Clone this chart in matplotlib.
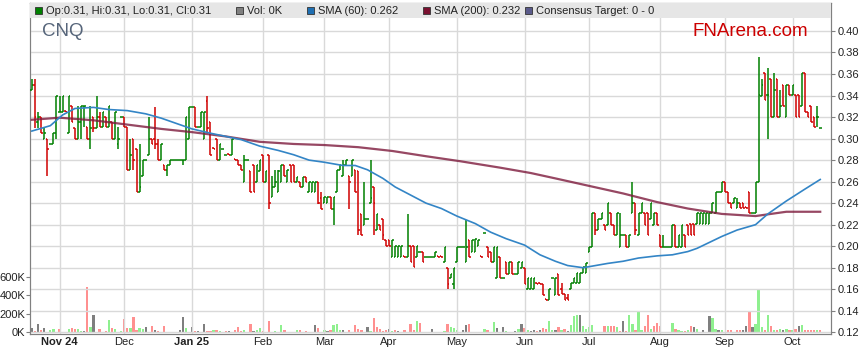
#CNQ daily price chart (OHLC bars, SMA lines and volume), FNArena style
import numpy as np
import pandas as pd
import matplotlib
matplotlib.use('Agg')
import matplotlib.pyplot as plt
from matplotlib.patches import Rectangle

plt.rcParams['font.family'] = ['Liberation Sans', 'DejaVu Sans']

# daily bars, first one is 21 Oct 2024
opens = [.345,.350,.315,.320,.300,.300,.295,.295,.305,.325, .325,.326,.305,.330,.310,.300,.315,.330,.311,.300,
         .320,.310,.320,.311,.320,.311,.315,.300,.295,.320, .320,.311,.271,.300,.290,.250,.265,.280,.285,.300,
         .300,.295,.280,
         .275,.271,.275,.280,.280,.280,.280,.280,.300,.329, .329,.311,.311,.300,.335,.315,.291,.300,.280,.290,
         .285,.286,.285,.281,.280,.275,.260,.280,.270,.275, .260,.270,.285,.260,.285,.246,.255,.250,.260,.275,
         .260,.275,
         .275,.260,.260,.255,.2645,.250,.250,.250,.260,.245, .240,.240,.2457,.235,.250,.2705,.265,.275,.265,.265,
         .2705,.270,.230,.220,.225,.240,.255,.215,.220,.225, .2055,.2055,.190,.190,.190,.190,.191,.190,.200,.200,
         .190,.1946,.1946,.190,
         .190,.190,.190,.1905,.1905,.1854,.180,.170,.165,.185, .1994,.1994,.185,.2056,.1947,.1947,.200,.1905,.2118,.1994,
         .1947,.1854,.170,.1895,.170,.1854,.1746,.1854,.1746,.1746, .180,.180,.160,.160,.160,.166,.166,.1653,.151,.150,
         .170,.155,.1746,
         .160,.1556,.152,.160,.1655,.1655,.1655,.1748,.1748,.195, .1996,.2306,.215,.225,.2197,.2197,.2306,.2197,.2104,.1996,
         .2104,.2104,.1996,.2306,.2398,.2104,.2306,.2306,.2306,.225, .2197,.2306,.2104,.1996,.1996,.1996,.1996,.2197,.1996,.1996,
         .2104,.2197,
         .2202,.2202,.2202,.2202,.2202,.2202,.2202,.2304,.2304,.2499, .2499,.260,.2499,.240,.240,.2351,.240,.240,.236,.2499,
         .2304,.2304,.260,.340,.3606,.3402,.355,.3203,.355,.3203, .350,.3203,.350,.3402,.3402,.3402,.3302,.3606,.325,.3302,
         .3203,.3203,.310]
highs = [.355,.355,.325,.320,.310,.300,.295,.305,.340,.340, .340,.326,.340,.330,.310,.330,.330,.330,.311,.330,
         .320,.340,.325,.325,.320,.330,.315,.325,.311,.320, .320,.311,.300,.300,.290,.295,.280,.280,.320,.300,
         .329,.300,.295,
         .275,.275,.280,.280,.280,.280,.280,.320,.329,.329, .329,.311,.325,.325,.340,.315,.291,.300,.295,.290,
         .285,.286,.300,.281,.280,.275,.285,.280,.270,.275, .275,.280,.285,.270,.285,.265,.271,.271,.275,.275,
         .271,.275,
         .275,.2645,.260,.2645,.2645,.260,.260,.260,.260,.250, .2457,.2457,.2457,.2457,.2705,.275,.2805,.2805,.265,.2805,
         .2705,.270,.230,.260,.225,.2805,.255,.230,.220,.225, .2055,.2055,.2055,.200,.200,.200,.191,.230,.200,.200,
         .200,.1946,.1946,.190,
         .190,.190,.1947,.1905,.1905,.1994,.180,.1746,.180,.1994, .1994,.1994,.2248,.2056,.2056,.2071,.2056,.1905,.2118,.1994,
         .1947,.1994,.1994,.1895,.170,.1854,.1854,.1854,.1746,.1854, .1854,.180,.170,.170,.170,.166,.166,.1653,.151,.160,
         .170,.170,.1746,
         .1655,.1556,.1556,.1655,.170,.1748,.1748,.181,.1847,.1996, .2306,.2306,.225,.2306,.2197,.2398,.2306,.2197,.2306,.2306,
         .2104,.2104,.2104,.260,.2398,.2306,.2398,.2306,.2306,.2398, .2306,.2306,.2104,.2104,.1996,.1996,.2197,.2197,.2104,.2197,
         .2104,.2197,
         .2202,.2202,.2304,.2304,.2304,.2304,.2304,.240,.2499,.2499, .260,.260,.2499,.240,.245,.245,.240,.240,.236,.2499,
         .2304,.260,.376,.355,.3606,.3653,.355,.3606,.355,.3451, .350,.350,.350,.350,.3402,.3402,.3606,.3606,.325,.3302,
         .3203,.3302,.310]
lows = [.345,.310,.310,.305,.300,.265,.295,.295,.300,.325, .325,.325,.305,.315,.300,.300,.300,.311,.300,.290,
        .306,.310,.311,.311,.311,.311,.300,.300,.290,.320, .311,.271,.271,.271,.250,.250,.265,.280,.285,.295,
        .290,.280,.280,
        .271,.265,.275,.280,.280,.280,.275,.280,.300,.329, .311,.311,.311,.300,.305,.285,.290,.280,.280,.290,
        .285,.285,.285,.280,.275,.271,.260,.280,.250,.250, .260,.270,.260,.260,.235,.246,.255,.250,.260,.265,
        .260,.260,
        .260,.260,.255,.255,.260,.250,.250,.250,.2395,.235, .240,.240,.235,.220,.250,.2705,.265,.275,.235,.265,
        .250,.210,.210,.220,.225,.240,.210,.215,.215,.2055, .200,.200,.190,.190,.190,.190,.190,.190,.1853,.1806,
        .190,.1946,.1853,.190,
        .190,.190,.190,.1895,.1895,.1854,.160,.170,.160,.185, .1994,.1994,.185,.1895,.1947,.1947,.200,.1895,.2118,.1895,
        .1854,.1854,.170,.170,.170,.1746,.1746,.1746,.1746,.1746, .180,.1653,.160,.160,.160,.1653,.1653,.1545,.150,.150,
        .170,.155,.1545,
        .1556,.150,.150,.160,.1655,.1655,.1655,.1748,.1748,.195, .1996,.2104,.215,.225,.215,.2197,.2197,.2104,.2104,.1996,
        .2104,.1996,.1996,.2306,.2104,.2104,.2306,.2197,.2104,.225, .2197,.2197,.1996,.1996,.1996,.1996,.1996,.1996,.1996,.1996,
        .1996,.2104,
        .2103,.2103,.2202,.2202,.2202,.2202,.2202,.2304,.2304,.2499, .2499,.2499,.240,.2351,.240,.2351,.2351,.2351,.2351,.2304,
        .2304,.2304,.260,.340,.3358,.300,.3203,.3203,.3203,.3203, .3302,.3203,.3402,.3402,.3203,.3203,.3302,.325,.3203,.3157,
        .3104,.3104,.310]
closes = [.350,.320,.320,.305,.305,.290,.295,.305,.340,.325, .340,.325,.340,.315,.300,.315,.330,.330,.300,.310,
          .310,.320,.311,.325,.311,.330,.300,.325,.300,.320, .311,.271,.285,.280,.250,.255,.280,.280,.300,.295,
          .295,.280,.295,
          .271,.275,.280,.280,.280,.280,.280,.320,.329,.329, .311,.311,.325,.325,.310,.285,.290,.280,.295,.290,
          .285,.285,.300,.280,.275,.271,.280,.280,.250,.250, .275,.280,.260,.270,.240,.255,.260,.270,.275,.265,
          .271,.260,
          .260,.2645,.255,.2645,.260,.260,.260,.260,.240,.235, .2457,.2457,.235,.2457,.2705,.275,.275,.280,.260,.2805,
          .250,.215,.210,.225,.225,.245,.240,.230,.215,.210, .200,.200,.2055,.200,.200,.200,.190,.200,.1853,.1806,
          .200,.1946,.1853,.190,
          .190,.190,.1947,.1895,.1895,.1994,.165,.1746,.180,.1994, .1994,.1994,.1994,.1895,.2056,.2071,.2056,.1895,.2118,.1895,
          .1854,.1994,.1994,.170,.170,.1746,.1854,.1746,.1746,.1854, .1854,.1653,.170,.170,.170,.1653,.1653,.1545,.150,.160,
          .170,.170,.155,
          .1556,.150,.150,.1655,.170,.1748,.1748,.181,.1847,.1996, .2306,.215,.225,.2306,.215,.2398,.2197,.2104,.2306,.2104,
          .2104,.1996,.2104,.2398,.215,.2306,.2398,.2197,.2104,.2398, .2306,.2197,.1996,.1996,.1996,.1996,.2197,.1996,.2104,.2197,
          .1996,.2104,
          .2103,.2103,.2304,.2304,.2304,.2304,.2304,.240,.2499,.2499, .260,.2499,.240,.2351,.245,.240,.2351,.2351,.2351,.2304,
          .2304,.260,.3402,.350,.3358,.3402,.3203,.345,.3203,.3302, .3302,.350,.3402,.350,.3203,.3203,.3606,.325,.3203,.3157,
          .3104,.3203,.310]

# volume in thousands
vols = [52,17,95,25,49,0,25,35,0,35, 0,0,35,49,35,35,14,14,487,56,
        182,0,35,0,17,130,49,35,0,14, 140,49,52,161,25,49,35,56,0,66,
        25,14,0,66,0,0,0,0,25,161, 49,0,56,14,14,0,87,14,14,25,
        25,14,0,10,10,0,25,56,14,25, 0,87,14,25,49,14,0,119,0,14,
        0,77,25,0,0,0,25,25,0,10, 0,0,77,49,0,25,14,25,77,87,
        25,25,0,25,0,77,35,25,0,56, 14,150,56,35,14,25,35,14,25,14,
        0,25,0,87,25,119,98,0,0,0, 35,0,0,0,14,87,56,49,25,0,
        25,77,87,0,0,0,0,35,25,0, 108,49,0,56,14,0,0,14,35,87,
        49,25,14,25,14,25,49,35,119,25, 25,56,25,35,14,77,171,182,192,66,
        35,56,77,0,0,0,66,66,66,66, 56,14,119,14,182,87,25,228,25,66,
        192,35,66,98,66,0,0,0,98,35, 25,14,14,25,66,56,35,0,25,0,
        171,150,35,25,25,0,25,25,0,25, 25,25,66,228,56,87,465,56,25,182,
        66,25,25,35,25,35,25,25,35,66, 77,25,25,25,25,25,25]

# moving averages (bar index, value)
sma60_x = [0,6,10,14,20,25,31,37,42,47,52,58,63,68,74,80,85,90,95,101,105,109,114,118,122,128,
           133,138,144,149,154,160,165,170,174,179,183,187,192,197,203,208,213,216,224,229,235,239,245,251,256]
sma60 = [.307,.312,.322,.328,.329,.327,.326,.323,.319,.314,.309,.305,.302,.299,.293,.289,.285,.280,.278,.275,
         .275,.271,.263,.255,.249,.240,.235,.228,.221,.213,.207,.201,.192,.186,.182,.180,.182,.184,.186,.189,
         .191,.192,.195,.198,.209,.215,.220,.230,.242,.253,.262]
sma200_x = [0,9,20,31,42,52,63,74,85,95,106,117,128,139,152,162,170,181,192,203,213,224,235,240,245,256]
sma200 = [.3175,.3194,.317,.313,.309,.306,.302,.297,.295,.294,.292,.2885,.2836,.279,.273,.268,.263,.256,
          .249,.241,.235,.230,.228,.230,.232,.232]

month_labels = ['Nov 24','Dec','Jan 25','Feb','Mar','Apr','May','Jun','Jul','Aug','Sep','Oct']
price_ticks = [0.12,0.14,0.16,0.18,0.20,0.22,0.24,0.26,0.28,0.30,0.32,0.34,0.36,0.38,0.40]
vol_ticks = [0,200,400,600]

o = np.array(opens); h = np.array(highs); l = np.array(lows); c = np.array(closes)
n = len(c)
x = np.arange(n)
dates = pd.bdate_range('2024-10-21', periods=n)
month_pos = [i for i in range(1, n) if dates[i].month != dates[i-1].month]

W, H = 859, 363
fig = plt.figure(figsize=(W/100, H/100), dpi=100)
ax = fig.add_axes([30/W, 29/H, 801/W, 331/H])   # volume
ax2 = ax.twinx()                                # price

# volume bars
prev = np.concatenate([[c[0]], c[:-1]])
vcol = np.where(c > prev, '#8ff08f', np.where(c < prev, '#ff9090', '#7f7f7f'))
ax.bar(x, np.array(vols)*1000, width=0.75, color=vcol, linewidth=0)
ax.set_ylim(-18000, 3554000)
ax.set_yticks([v*1000 for v in vol_ticks])
ax.set_yticklabels(['%dK' % v for v in vol_ticks])

# price grid
for p in month_pos:
    ax2.axvline(p, color='#d9d9d9', lw=1, zorder=0.5)
ax2.grid(axis='y', color='#d9d9d9', lw=1)
ax2.set_axisbelow(True)

# ohlc bars
red = c < o
cols = np.where(red, '#d00000', '#008000')
ax2.vlines(x, l, h, colors=cols, lw=1.1, zorder=3)
ax2.hlines(o, x-0.5, x, colors=cols, lw=1.1, zorder=3)
ax2.hlines(c, x, x+0.5, colors=cols, lw=1.1, zorder=3)

ax2.plot(sma200_x, sma200, color='#7d1a3c', lw=1.6, alpha=0.8, zorder=4)
ax2.plot(sma60_x, sma60, color='#3385c6', lw=1.2, zorder=4)

ax2.set_ylim(0.1184, 0.426)
ax2.set_yticks(price_ticks)
ax2.set_yticklabels(['%.2f' % p for p in price_ticks])
ax.set_xlim(-0.6, 259.5)
ax.set_xticks(month_pos)
ax.set_xticklabels(month_labels)
for lab in ax.get_xticklabels():
    if ' ' in lab.get_text():
        lab.set_fontweight('bold')

for a in (ax, ax2):
    for s in a.spines.values():
        s.set_color('#808080')
ax.tick_params(axis='x', length=0, pad=2, labelsize=8, colors='#222222')
ax.tick_params(axis='y', length=3, pad=0.5, labelsize=8, colors='#808080', labelcolor='#222222')
ax2.tick_params(axis='y', length=3, pad=1.5, labelsize=8, colors='#808080', labelcolor='#222222')

# header band with legend
ax2.add_patch(Rectangle((0, 1-15/331), 1, 15/331, transform=ax2.transAxes,
                        facecolor='#e6e6e6', edgecolor='none', zorder=10, clip_on=False))
items = [(35, '#008000', 'Op:0.31, Hi:0.31, Lo:0.31, Cl:0.31'),
         (236, '#808080', 'Vol: 0K'),
         (307, '#1f6fb2', 'SMA (60): 0.262'),
         (423, '#7a1030', 'SMA (200): 0.232'),
         (525, '#5a5a8a', 'Consensus Target: 0 - 0')]
for px, col, txt in items:
    fig.add_artist(Rectangle((px/W, 1-14/H), 7/W, 7/H, transform=fig.transFigure,
                             facecolor=col, edgecolor='#333333', lw=0.6, zorder=11))
    fig.text((px+11)/W, 1-10.5/H, txt, fontsize=8, va='center', ha='left', color='#222222', zorder=12)

fig.text(42/W, 1-32/H, 'CNQ', fontsize=13.5, color='#56657a', va='center', ha='left')
fig.text(693/W, 1-32/H, 'FNArena.com', fontsize=13.5, color='#cc0000', va='center', ha='left')

fig.savefig('out.png', dpi=100)
